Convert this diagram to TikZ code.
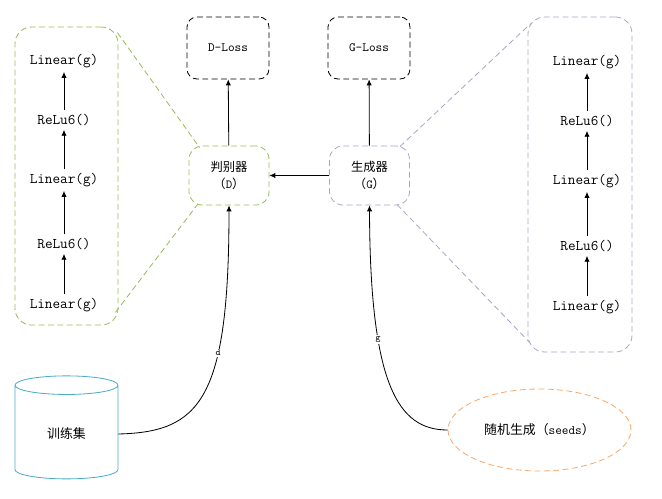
\documentclass[tikz,border=0pt]{standalone}
\usepackage{fontspec}
\newfontfamily\cjk{Noto Sans CJK SC}
\usetikzlibrary{arrows.meta,shapes.geometric,calc}
\definecolor{discgreen}{HTML}{9BBB59}
\definecolor{genpurple}{HTML}{B3A2C7}
\definecolor{datablue}{HTML}{4BACC6}
\definecolor{seedorange}{HTML}{F8A86A}
\begin{document}
\begin{tikzpicture}[x=0.03cm,y=-0.03cm,
  dbox/.style={draw,line width=0.7pt,dash pattern=on 5pt off 3pt},
  layer/.style={font=\ttfamily\fontsize{12.6}{14}\selectfont},
  link/.style={-{Latex[length=5pt,width=4.5pt]},line width=0.7pt}]
  \useasboundingbox (0,0) rectangle (662,499);
  % loss boxes
  \node[dbox,rounded corners=0.3cm,minimum width=2.46cm,minimum height=1.86cm,font=\ttfamily\fontsize{10.8}{12}\selectfont] (dloss) at (228,48) {D-Loss};
  \node[dbox,rounded corners=0.3cm,minimum width=2.46cm,minimum height=1.86cm,font=\ttfamily\fontsize{10.8}{12}\selectfont] (gloss) at (369,48) {G-Loss};
  % discriminator and generator
  \node[dbox,draw=discgreen,rounded corners=0.4cm,minimum width=2.4cm,minimum height=1.77cm,align=center,font=\ttfamily\fontsize{10.5}{14.5}\selectfont] (disc) at (229,175.5) {{\cjk 判别器}\\{\cjk （}D{\cjk ）}};
  \node[dbox,draw=genpurple,rounded corners=0.4cm,minimum width=2.4cm,minimum height=1.77cm,align=center,font=\ttfamily\fontsize{10.5}{14.5}\selectfont] (gen) at (369.5,175.5) {{\cjk 生成器}\\{\cjk （}G{\cjk ）}};
  \draw[link] (disc) -- (dloss);
  \draw[link] (gen) -- (gloss);
  \draw[link] (gen) -- (disc);
  % layers of the discriminator
  \node[dbox,draw=discgreen,rounded corners=0.5cm,minimum width=3.09cm,minimum height=8.94cm] (lbox) at (66.5,176) {};
  \node[layer] (l1) at (64,61) {Linear(g)};
  \node[layer] (l2) at (64,120) {ReLu6()};
  \node[layer] (l3) at (64,180) {Linear(g)};
  \node[layer] (l4) at (64,244) {ReLu6()};
  \node[layer] (l5) at (64,305) {Linear(g)};
  \draw[link] (l2) -- (l1);
  \draw[link] (l3) -- (l2);
  \draw[link] (l4) -- (l3);
  \draw[link] (l5) -- (l4);
  \draw[dbox,draw=discgreen] ($(lbox.north east)+(-1,6)$) -- ($(disc.north west)+(11,2)$);
  \draw[dbox,draw=discgreen] ($(lbox.south east)+(-3,-13)$) -- ($(disc.south west)+(9,-1)$);
  % layers of the generator
  \node[dbox,draw=genpurple,rounded corners=0.5cm,minimum width=3.12cm,minimum height=10.05cm] (rbox) at (580,184.5) {};
  \node[layer] (r1) at (587,62) {Linear(g)};
  \node[layer] (r2) at (587,121) {ReLu6()};
  \node[layer] (r3) at (587,181) {Linear(g)};
  \node[layer] (r4) at (587,246) {ReLu6()};
  \node[layer] (r5) at (587,307) {Linear(g)};
  \draw[link] (r2) -- (r1);
  \draw[link] (r3) -- (r2);
  \draw[link] (r4) -- (r3);
  \draw[link] (r5) -- (r4);
  \draw[dbox,draw=genpurple] ($(gen.north east)+(-10,1)$) -- ($(rbox.north west)+(3,7)$);
  \draw[dbox,draw=genpurple] ($(gen.south east)+(-13,-1)$) -- ($(rbox.south west)+(2,-10)$);
  % inputs
  \node[cylinder,shape border rotate=90,draw=datablue,line width=0.7pt,aspect=0.4,minimum width=3.09cm,minimum height=3.09cm,font=\cjk\fontsize{11}{13}\selectfont] (train) at (66.5,434) {训练集};
  \node[ellipse,dbox,draw=seedorange,minimum width=5.49cm,minimum height=2.46cm,font=\ttfamily\fontsize{11}{13}\selectfont] (seeds) at (539.5,430) {{\cjk 随机生成（}seeds{\cjk ）}};
  \draw[link] (train.east) .. controls (200,432) and (229,400) .. node[pos=0.66,fill=white,inner sep=1pt,font=\ttfamily\fontsize{8}{9}\selectfont] {d} (disc.south);
  \draw[link] (seeds.west) .. controls (398,430) and (370,385) .. node[pos=0.68,fill=white,inner sep=1pt,font=\ttfamily\fontsize{8}{9}\selectfont] {g} (gen.south);
\end{tikzpicture}
\end{document}
